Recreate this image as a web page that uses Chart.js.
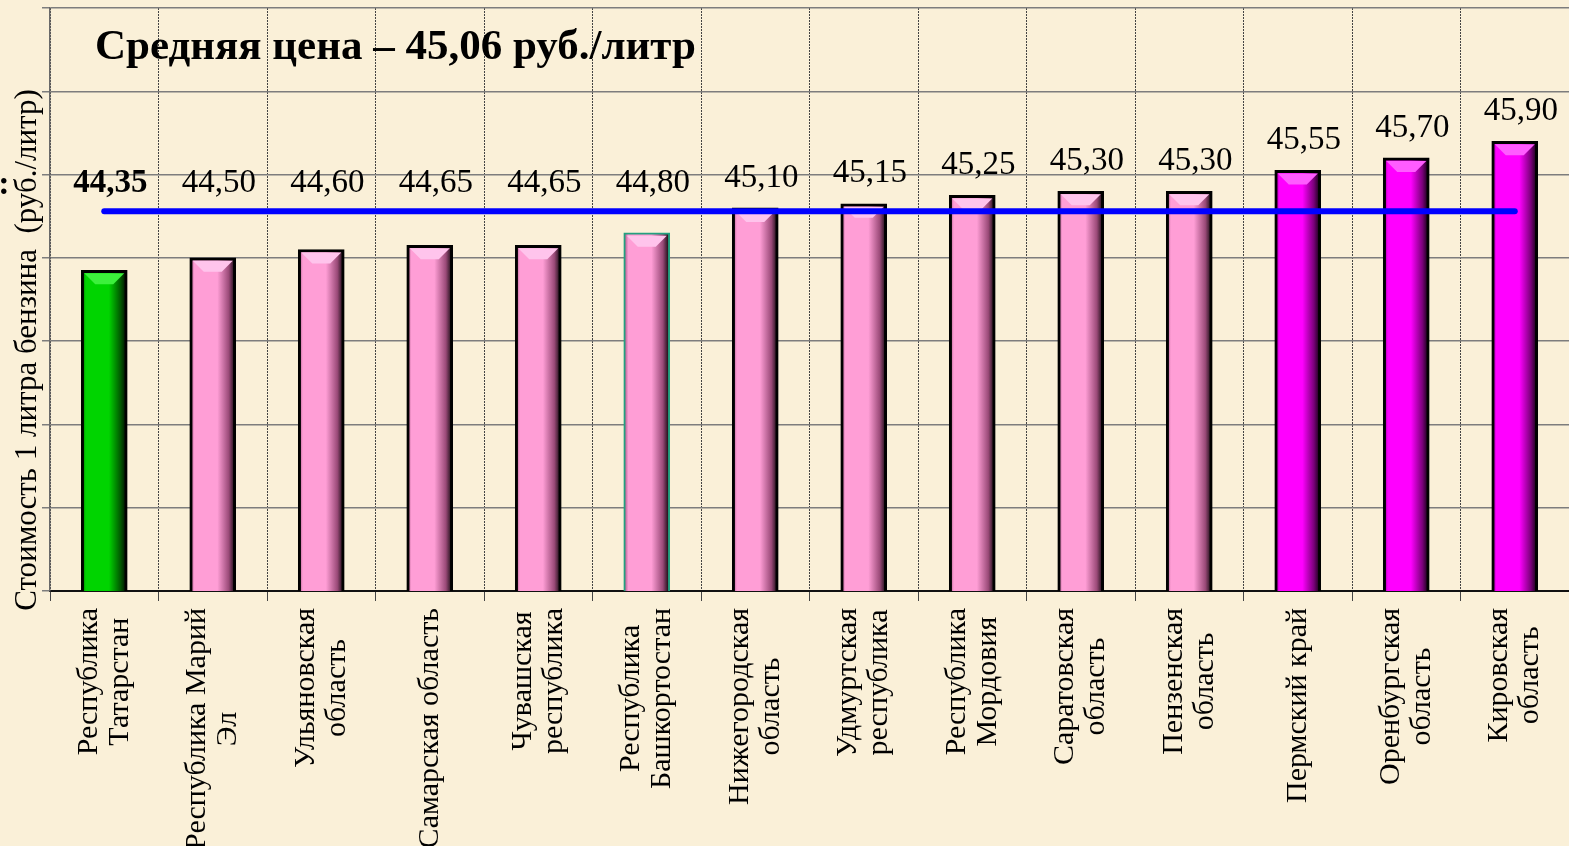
<!DOCTYPE html>
<html>
<head>
<meta charset="utf-8">
<script src="https://cdn.jsdelivr.net/npm/chart.js@4.4.1/dist/chart.umd.min.js"></script>
<style>
  html, body { margin: 0; padding: 0; background: #faf0d8; }
  canvas { display: block; }
</style>
</head>
<body>
<canvas id="myChart" width="1569" height="846"></canvas>
<script>
// data
const regions = [
  ["Республика", "Татарстан"],
  ["Республика Марий", "Эл"],
  ["Ульяновская", "область"],
  ["Самарская область"],
  ["Чувашская", "республика"],
  ["Республика", "Башкортостан"],
  ["Нижегородская", "область"],
  ["Удмуртская", "республика"],
  ["Республика", "Мордовия"],
  ["Саратовская", "область"],
  ["Пензенская", "область"],
  ["Пермский край"],
  ["Оренбургская", "область"],
  ["Кировская", "область"]
];
const prices = [44.35, 44.50, 44.60, 44.65, 44.65, 44.80, 45.10, 45.15, 45.25, 45.30, 45.30, 45.55, 45.70, 45.90];
const priceLabels = ["44,35", "44,50", "44,60", "44,65", "44,65", "44,80", "45,10", "45,15", "45,25", "45,30", "45,30", "45,55", "45,70", "45,90"];
const averagePrice = 45.06;
const titleText = "Средняя цена – 45,06 руб./литр";
const yTitle = "Стоимость 1 литра бензина  (руб./литр)";
const yMin = 40.5, yMax = 47.5, yStep = 1;

const ctx = document.getElementById("myChart");
const serif = "'Liberation Serif', 'Times New Roman', serif";

// colour by group: home region green, top three magenta, rest pink
function palette(i) {
  if (i === 0) return { face: "#00d400", light: "#3cf03c", dark: "#005a00" };
  if (prices[i] > 45.5) return { face: "#ff00ff", light: "#ff5cff", dark: "#7a007a" };
  return { face: "#ff9ed6", light: "#ffc4ec", dark: "#9a4a78" };
}

function barFill(c) {
  const chart = c.chart;
  const p = palette(c.dataIndex);
  if (!chart.chartArea || !chart.scales.x) return p.face;
  const x = chart.scales.x.getPixelForValue(c.dataIndex);
  const g = chart.ctx.createLinearGradient(x - 23, 0, x + 23, 0);
  g.addColorStop(0, p.dark);
  g.addColorStop(0.1, p.face);
  g.addColorStop(0.6, p.face);
  g.addColorStop(0.85, p.dark);
  g.addColorStop(1, "#000");
  return g;
}

const slidePlugin = {
  id: "slideText",
  afterDatasetDraw(chart, args) {
    if (args.index !== 0) return;
    const c = chart.ctx;
    // bevel on top of each bar
    args.meta.data.forEach((bar, i) => {
      const p = palette(i);
      const l = bar.x - bar.width / 2 + 3, r = bar.x + bar.width / 2 - 3, t = bar.y + 3;
      c.save();
      c.fillStyle = p.light;
      c.beginPath();
      c.moveTo(l, t);
      c.lineTo(r, t);
      c.lineTo(r - 11, t + 11);
      c.lineTo(l + 11, t + 11);
      c.closePath();
      c.fill();
      c.restore();
    });
  },
  afterDatasetsDraw(chart) {
    const c = chart.ctx;
    const x = chart.scales.x, y = chart.scales.y;
    const meanY = y.getPixelForValue(averagePrice);
    c.save();
    c.fillStyle = "#000";
    // value labels, kept above the average line
    c.textAlign = "center";
    c.textBaseline = "middle";
    prices.forEach((v, i) => {
      const top = y.getPixelForValue(v);
      c.font = (i === 0 ? "bold " : "") + "33px " + serif;
      c.fillText(priceLabels[i], x.getPixelForValue(i) + 6, Math.min(top - 30, meanY - 28));
    });
    // category labels, rotated and centred
    c.font = "30px " + serif;
    regions.forEach((lines, i) => {
      const w = Math.max(...lines.map(s => c.measureText(s).width));
      c.save();
      c.translate(x.getPixelForValue(i), chart.chartArea.bottom + 17);
      c.rotate(-Math.PI / 2);
      lines.forEach((s, k) => {
        c.fillText(s, -w / 2, (k - (lines.length - 1) / 2) * 31);
      });
      c.restore();
    });
    // axis title
    c.save();
    c.translate(28, 350);
    c.rotate(-Math.PI / 2);
    c.font = "31px " + serif;
    c.fillText(yTitle, 0, 0);
    c.restore();
    // chart title
    c.textAlign = "left";
    c.textBaseline = "alphabetic";
    c.font = "bold 43px " + serif;
    c.fillText(titleText, 95, 59);
    c.font = "bold 34px " + serif;
    c.textAlign = "center";
    c.fillText(":", 4, 194);
    c.restore();
  }
};

const myChart = new Chart(ctx, {
  type: "bar",
  data: {
    labels: regions,
    datasets: [
      {
        type: "bar",
        data: prices,
        order: 1,
        backgroundColor: barFill,
        borderColor: (c) => (c.dataIndex === 5 ? "#23a07f" : "#000"),
        borderWidth: (c) => (c.dataIndex === 5 ? 2 : 3),
        borderSkipped: false,
        barThickness: 46
      },
      {
        type: "line",
        data: prices.map(() => averagePrice),
        order: 0,
        borderColor: "#0000ff",
        borderWidth: 6,
        borderCapStyle: "round",
        pointRadius: 0,
        fill: false
      }
    ]
  },
  options: {
    responsive: false,
    animation: false,
    layout: { padding: { top: 8, left: 0, right: 0, bottom: 0 } },
    plugins: { legend: { display: false }, tooltip: { enabled: false } },
    scales: {
      x: {
        offset: true,
        ticks: { display: false },
        grid: { offset: true, color: "#444", lineWidth: 1, tickLength: 10 },
        border: { color: "#111", width: 2, dash: [2, 1] },
        afterFit(s) { s.height = 255; }
      },
      y: {
        min: yMin,
        max: yMax,
        ticks: { display: false, stepSize: yStep },
        grid: { color: "#7d7d7d", lineWidth: 1.5, tickLength: 8 },
        border: { color: "#6a6a6a", width: 1.5 },
        afterFit(s) { s.width = 50; }
      }
    }
  },
  plugins: [slidePlugin]
});
</script>
</body>
</html>
